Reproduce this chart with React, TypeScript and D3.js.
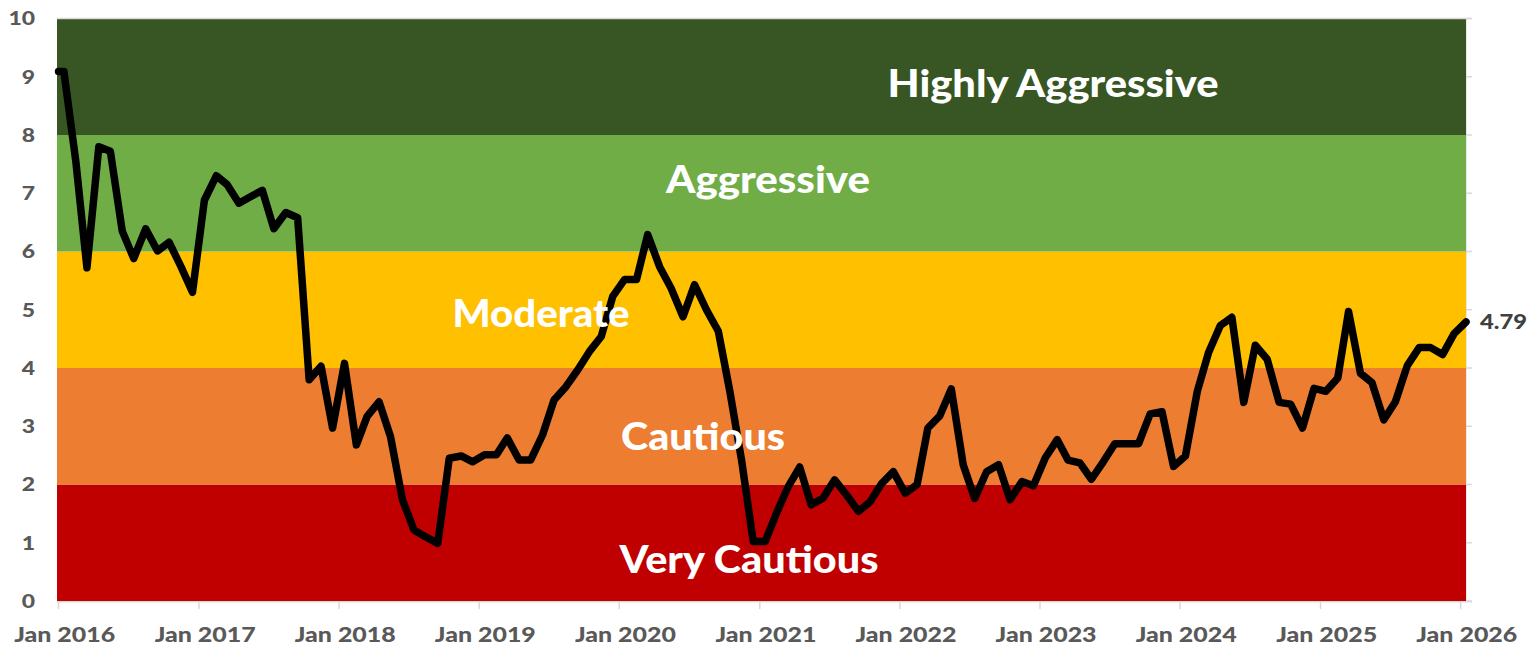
import React from "react";
import * as d3 from "d3";

// ---------- data ----------
const startDate = "2016-01-01";
const startValue = 9.09;

// monthly readings, mid-month, Jan 2016 .. Jan 2026
const values2016 = [9.09, 7.55, 5.72, 7.8, 7.72, 6.35, 5.88, 6.39, 6.01, 6.16, 5.74, 5.3];
const values2017 = [6.88, 7.3, 7.15, 6.83, 6.94, 7.05, 6.39, 6.67, 6.58, 3.8, 4.03, 2.97];
const values2018 = [4.08, 2.68, 3.17, 3.42, 2.82, 1.74, 1.22, 1.1, 0.99, 2.45, 2.49, 2.39];
const values2019 = [2.51, 2.51, 2.8, 2.42, 2.42, 2.85, 3.45, 3.68, 3.97, 4.28, 4.54, 5.23];
const values2020 = [5.52, 5.52, 6.29, 5.74, 5.37, 4.88, 5.43, 5.0, 4.63, 3.6, 2.4, 1.02];
const values2021 = [1.02, 1.53, 1.95, 2.3, 1.65, 1.77, 2.08, 1.82, 1.54, 1.7, 2.02, 2.22];
const values2022 = [1.85, 2.0, 2.97, 3.18, 3.64, 2.34, 1.76, 2.22, 2.34, 1.74, 2.05, 1.98];
const values2023 = [2.46, 2.77, 2.42, 2.37, 2.09, 2.39, 2.7, 2.7, 2.7, 3.21, 3.25, 2.31];
const values2024 = [2.49, 3.6, 4.26, 4.73, 4.87, 3.41, 4.39, 4.15, 3.41, 3.38, 2.97, 3.65];
const values2025 = [3.6, 3.83, 4.97, 3.91, 3.75, 3.11, 3.42, 4.04, 4.35, 4.35, 4.23, 4.59];
const values2026 = [4.79];

const lastLabel = "4.79";

const bandNames = ["Very Cautious", "Cautious", "Moderate", "Aggressive", "Highly Aggressive"];
const bandBounds = [0, 2, 4, 6, 8, 10];
const bandColors = ["#C00000", "#ED7D31", "#FFC000", "#70AD47", "#375623"];

const yTicks = [0, 1, 2, 3, 4, 5, 6, 7, 8, 9, 10];
const xTickYears = [2016, 2017, 2018, 2019, 2020, 2021, 2022, 2023, 2024, 2025, 2026];

// ---------- layout ----------
const W = 1532;
const H = 646;
const FONT = "Lato, 'Open Sans', 'DejaVu Sans', sans-serif";
// [center x, baseline y, rendered width]
const labelPos: Record<string, [number, number, number]> = {
  "Highly Aggressive": [1053, 97, 331],
  Aggressive: [768, 193, 204],
  Moderate: [541, 327, 177],
  Cautious: [703, 450, 164],
  "Very Cautious": [749, 573, 259],
};
const DIGIT_W = 13.3;
const XLABEL_W = 101;
const LAST_W = 47;

export default function App() {
  const allValues = [
    ...values2016, ...values2017, ...values2018, ...values2019, ...values2020,
    ...values2021, ...values2022, ...values2023, ...values2024, ...values2025, ...values2026,
  ];
  const months = d3.timeMonth.range(new Date(2016, 0, 1), new Date(2026, 1, 1));
  const points = [
    { date: d3.timeParse("%Y-%m-%d")(startDate) as Date, value: startValue },
    ...allValues.map((v, i) => ({ date: d3.timeDay.offset(months[i], 14), value: v })),
  ];

  const x = d3.scaleTime().domain([new Date(2015, 11, 28), new Date(2026, 0, 15)]).range([57, 1466]);
  const y = d3.scaleLinear().domain([0, 10]).range([601, 18.5]);
  const line = d3
    .line<{ date: Date; value: number }>()
    .x((d) => x(d.date))
    .y((d) => y(d.value));

  const x0 = x.range()[0];
  const x1 = x.range()[1];
  const last = points[points.length - 1];
  const grey = "#D9D9D9";

  return (
    <div style={{ position: "fixed", left: 0, top: 0 }}>
      <svg width={W} height={H} style={{ display: "block" }}>
        <rect x={0} y={0} width={W} height={H} fill="#fff" />
        {bandNames.map((n, i) => (
          <rect
            key={n}
            x={x0}
            y={y(bandBounds[i + 1])}
            width={x1 - x0}
            height={y(bandBounds[i]) - y(bandBounds[i + 1])}
            fill={bandColors[i]}
          />
        ))}
        {/* top gridline and bottom axis */}
        <line x1={x0} x2={x1 + 6} y1={y(10)} y2={y(10)} stroke={grey} strokeWidth={1.5} />
        <line x1={x0} x2={x1 + 6} y1={y(0) + 0.75} y2={y(0) + 0.75} stroke={grey} strokeWidth={1.5} />
        <line x1={x1 + 0.5} x2={x1 + 0.5} y1={y(10)} y2={y(0)} stroke={grey} strokeWidth={1} opacity={0.6} />
        {yTicks.map((t) => (
          <line key={"rt" + t} x1={x1} x2={x1 + 6} y1={y(t)} y2={y(t)} stroke={grey} strokeWidth={1.5} />
        ))}
        {xTickYears.map((yr) => {
          const xx = x(new Date(yr, 0, 1));
          return <line key={"xt" + yr} x1={xx} x2={xx} y1={y(0)} y2={y(0) + 8} stroke={grey} strokeWidth={1.5} />;
        })}
        {/* y labels */}
        {yTicks.map((t) => (
          <text
            key={"yl" + t}
            x={35}
            y={y(t)}
            dy="0.36em"
            textAnchor="end"
            fontFamily={FONT}
            fontWeight={900}
            fontSize={19}
            fill="#595959"
            textLength={String(t).length * DIGIT_W}
            lengthAdjust="spacingAndGlyphs"
          >
            {t}
          </text>
        ))}
        {/* x labels (centred on the January period) */}
        {xTickYears.map((yr) => (
          <text
            key={"xl" + yr}
            x={x(new Date(yr, 0, 17))}
            y={642}
            textAnchor="middle"
            fontFamily={FONT}
            fontWeight={900}
            fontSize={21}
            fill="#595959"
            textLength={XLABEL_W}
            lengthAdjust="spacingAndGlyphs"
          >
            {"Jan " + yr}
          </text>
        ))}
        {/* series line */}
        <path
          d={line(points) || ""}
          fill="none"
          stroke="#000"
          strokeWidth={7.5}
          strokeLinejoin="round"
          strokeLinecap="round"
        />
        {/* band labels */}
        {bandNames.map((n) => (
          <text
            key={"bl" + n}
            x={labelPos[n][0]}
            y={labelPos[n][1]}
            textAnchor="middle"
            fontFamily={FONT}
            fontWeight={900}
            fontSize={37}
            fill="#fff"
            textLength={labelPos[n][2]}
            lengthAdjust="spacingAndGlyphs"
          >
            {n}
          </text>
        ))}
        {/* last value label */}
        <text
          x={x(last.date) + 14}
          y={y(last.value)}
          dy="0.36em"
          fontFamily={FONT}
          fontWeight={900}
          fontSize={20}
          fill="#404040"
          textLength={LAST_W}
          lengthAdjust="spacingAndGlyphs"
        >
          {lastLabel}
        </text>
      </svg>
    </div>
  );
}
